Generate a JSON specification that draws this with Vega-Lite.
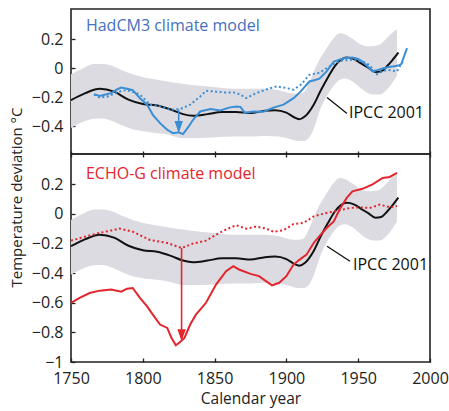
{
  "$schema": "https://vega.github.io/schema/vega-lite/v6.json",
  "padding": {"left": 8, "top": 8, "right": 10, "bottom": 2},
  "spacing": 0,
  "bounds": "flush",
  "config": {
    "view": {"stroke": "#222", "strokeWidth": 1.6},
    "axis": {"labelFont": "Open Sans", "labelFontSize": 16, "labelColor": "#222", "tickColor": "#222", "tickWidth": 1.3, "titleFont": "Open Sans", "titleFontSize": 15, "titleFontWeight": "normal", "titleColor": "#222", "grid": false, "domain": false, "labelFlush": false, "labelOverlap": false},
    "text": {"font": "Open Sans"}
  },
  "datasets": {
    "band": [
      {"year": 1750, "lo": -0.41, "hi": -0.04},
      {"year": 1758, "lo": -0.37, "hi": 0.0},
      {"year": 1766, "lo": -0.347, "hi": 0.03},
      {"year": 1772, "lo": -0.345, "hi": 0.03},
      {"year": 1778, "lo": -0.36, "hi": 0.02},
      {"year": 1785, "lo": -0.39, "hi": -0.01},
      {"year": 1793, "lo": -0.42, "hi": -0.04},
      {"year": 1805, "lo": -0.44, "hi": -0.07},
      {"year": 1817, "lo": -0.455, "hi": -0.09},
      {"year": 1828, "lo": -0.48, "hi": -0.105},
      {"year": 1840, "lo": -0.48, "hi": -0.12},
      {"year": 1851, "lo": -0.475, "hi": -0.13},
      {"year": 1863, "lo": -0.47, "hi": -0.14},
      {"year": 1875, "lo": -0.47, "hi": -0.14},
      {"year": 1886, "lo": -0.465, "hi": -0.14},
      {"year": 1895, "lo": -0.47, "hi": -0.15},
      {"year": 1902, "lo": -0.485, "hi": -0.17},
      {"year": 1908, "lo": -0.5, "hi": -0.175},
      {"year": 1912, "lo": -0.5, "hi": -0.165},
      {"year": 1916, "lo": -0.475, "hi": -0.095},
      {"year": 1920, "lo": -0.39, "hi": 0.0},
      {"year": 1923, "lo": -0.297, "hi": 0.06},
      {"year": 1926, "lo": -0.23, "hi": 0.108},
      {"year": 1930, "lo": -0.16, "hi": 0.17},
      {"year": 1933, "lo": -0.117, "hi": 0.21},
      {"year": 1937, "lo": -0.08, "hi": 0.243},
      {"year": 1941, "lo": -0.07, "hi": 0.235},
      {"year": 1946, "lo": -0.09, "hi": 0.205},
      {"year": 1951, "lo": -0.13, "hi": 0.17},
      {"year": 1956, "lo": -0.166, "hi": 0.153},
      {"year": 1961, "lo": -0.18, "hi": 0.155},
      {"year": 1965, "lo": -0.18, "hi": 0.165},
      {"year": 1969, "lo": -0.155, "hi": 0.2},
      {"year": 1973, "lo": -0.11, "hi": 0.24},
      {"year": 1977, "lo": -0.05, "hi": 0.27}
    ],
    "ipcc": [
      {"year": 1750, "v": -0.218}, {"year": 1760, "v": -0.17}, {"year": 1770, "v": -0.14},
      {"year": 1780, "v": -0.16}, {"year": 1790, "v": -0.215}, {"year": 1800, "v": -0.245},
      {"year": 1810, "v": -0.255}, {"year": 1820, "v": -0.285}, {"year": 1828, "v": -0.315},
      {"year": 1835, "v": -0.326}, {"year": 1845, "v": -0.315}, {"year": 1855, "v": -0.3},
      {"year": 1865, "v": -0.3}, {"year": 1875, "v": -0.308}, {"year": 1885, "v": -0.292},
      {"year": 1892, "v": -0.288}, {"year": 1900, "v": -0.305}, {"year": 1905, "v": -0.335},
      {"year": 1909, "v": -0.35}, {"year": 1913, "v": -0.33}, {"year": 1919, "v": -0.25},
      {"year": 1924, "v": -0.15}, {"year": 1929, "v": -0.06}, {"year": 1934, "v": 0.02},
      {"year": 1938, "v": 0.06}, {"year": 1942, "v": 0.075}, {"year": 1947, "v": 0.065},
      {"year": 1952, "v": 0.035}, {"year": 1957, "v": 0.005}, {"year": 1962, "v": -0.025},
      {"year": 1966, "v": -0.02}, {"year": 1970, "v": 0.015}, {"year": 1974, "v": 0.06},
      {"year": 1978, "v": 0.11}
    ],
    "hadSolid": [
      {"year": 1766, "v": -0.177}, {"year": 1770, "v": -0.19}, {"year": 1774, "v": -0.18},
      {"year": 1778, "v": -0.17}, {"year": 1782, "v": -0.145}, {"year": 1785, "v": -0.131},
      {"year": 1789, "v": -0.14}, {"year": 1793, "v": -0.15}, {"year": 1798, "v": -0.205},
      {"year": 1803, "v": -0.25}, {"year": 1807, "v": -0.32}, {"year": 1812, "v": -0.377},
      {"year": 1817, "v": -0.423}, {"year": 1821, "v": -0.446}, {"year": 1825, "v": -0.44},
      {"year": 1828, "v": -0.453}, {"year": 1832, "v": -0.4}, {"year": 1835, "v": -0.354},
      {"year": 1840, "v": -0.297}, {"year": 1847, "v": -0.28}, {"year": 1854, "v": -0.29},
      {"year": 1860, "v": -0.27}, {"year": 1865, "v": -0.262}, {"year": 1868, "v": -0.265},
      {"year": 1871, "v": -0.306}, {"year": 1877, "v": -0.297}, {"year": 1884, "v": -0.298},
      {"year": 1891, "v": -0.27}, {"year": 1898, "v": -0.25}, {"year": 1905, "v": -0.205},
      {"year": 1910, "v": -0.158}, {"year": 1916, "v": -0.09}, {"year": 1920, "v": -0.08},
      {"year": 1923, "v": -0.07}, {"year": 1928, "v": -0.02}, {"year": 1933, "v": 0.048},
      {"year": 1940, "v": 0.071}, {"year": 1946, "v": 0.076}, {"year": 1950, "v": 0.065},
      {"year": 1953, "v": 0.048}, {"year": 1957, "v": 0.01}, {"year": 1960, "v": -0.02},
      {"year": 1964, "v": -0.01}, {"year": 1967, "v": 0.0}, {"year": 1971, "v": 0.01},
      {"year": 1974, "v": 0.014}, {"year": 1978, "v": 0.02}, {"year": 1980, "v": 0.03},
      {"year": 1984, "v": 0.14}
    ],
    "hadDot": [
      {"year": 1766, "v": -0.18}, {"year": 1770, "v": -0.2}, {"year": 1775, "v": -0.195},
      {"year": 1780, "v": -0.175}, {"year": 1785, "v": -0.155}, {"year": 1789, "v": -0.15},
      {"year": 1794, "v": -0.165}, {"year": 1798, "v": -0.18}, {"year": 1805, "v": -0.25},
      {"year": 1812, "v": -0.26}, {"year": 1819, "v": -0.285}, {"year": 1826, "v": -0.28},
      {"year": 1833, "v": -0.25}, {"year": 1840, "v": -0.193}, {"year": 1844, "v": -0.154},
      {"year": 1851, "v": -0.16}, {"year": 1857, "v": -0.165}, {"year": 1863, "v": -0.165},
      {"year": 1868, "v": -0.18}, {"year": 1872, "v": -0.205}, {"year": 1879, "v": -0.17},
      {"year": 1886, "v": -0.145}, {"year": 1893, "v": -0.124}, {"year": 1900, "v": -0.135},
      {"year": 1905, "v": -0.147}, {"year": 1910, "v": -0.113}, {"year": 1916, "v": -0.044},
      {"year": 1923, "v": -0.03}, {"year": 1930, "v": 0.014}, {"year": 1937, "v": 0.053},
      {"year": 1946, "v": 0.06}, {"year": 1952, "v": 0.05}, {"year": 1956, "v": 0.037},
      {"year": 1960, "v": 0.0}, {"year": 1963, "v": -0.04}, {"year": 1967, "v": -0.02},
      {"year": 1970, "v": -0.01}, {"year": 1974, "v": -0.015}, {"year": 1977, "v": -0.02},
      {"year": 1981, "v": 0.048}
    ],
    "echoSolid": [
      {"year": 1750, "v": -0.6}, {"year": 1756, "v": -0.567}, {"year": 1763, "v": -0.534},
      {"year": 1770, "v": -0.518}, {"year": 1778, "v": -0.51}, {"year": 1785, "v": -0.525},
      {"year": 1789, "v": -0.505}, {"year": 1793, "v": -0.5}, {"year": 1798, "v": -0.567},
      {"year": 1803, "v": -0.624}, {"year": 1807, "v": -0.68}, {"year": 1812, "v": -0.747},
      {"year": 1817, "v": -0.77}, {"year": 1820, "v": -0.838}, {"year": 1823, "v": -0.887},
      {"year": 1826, "v": -0.865}, {"year": 1829, "v": -0.838}, {"year": 1833, "v": -0.747},
      {"year": 1837, "v": -0.68}, {"year": 1844, "v": -0.6}, {"year": 1851, "v": -0.477},
      {"year": 1858, "v": -0.387}, {"year": 1863, "v": -0.353}, {"year": 1867, "v": -0.375},
      {"year": 1875, "v": -0.405}, {"year": 1881, "v": -0.42}, {"year": 1886, "v": -0.455},
      {"year": 1890, "v": -0.482}, {"year": 1895, "v": -0.465}, {"year": 1900, "v": -0.42},
      {"year": 1905, "v": -0.342}, {"year": 1909, "v": -0.31}, {"year": 1914, "v": -0.275},
      {"year": 1919, "v": -0.196}, {"year": 1923, "v": -0.15}, {"year": 1928, "v": -0.095},
      {"year": 1933, "v": -0.05}, {"year": 1937, "v": 0.03}, {"year": 1942, "v": 0.108},
      {"year": 1946, "v": 0.153}, {"year": 1953, "v": 0.17}, {"year": 1960, "v": 0.2},
      {"year": 1967, "v": 0.243}, {"year": 1972, "v": 0.25}, {"year": 1977, "v": 0.277}
    ],
    "echoDot": [
      {"year": 1750, "v": -0.18}, {"year": 1761, "v": -0.15}, {"year": 1770, "v": -0.128},
      {"year": 1784, "v": -0.099}, {"year": 1793, "v": -0.12}, {"year": 1805, "v": -0.176},
      {"year": 1817, "v": -0.196}, {"year": 1827, "v": -0.23}, {"year": 1835, "v": -0.2},
      {"year": 1844, "v": -0.18}, {"year": 1851, "v": -0.14}, {"year": 1858, "v": -0.105},
      {"year": 1865, "v": -0.076}, {"year": 1872, "v": -0.099}, {"year": 1879, "v": -0.085},
      {"year": 1886, "v": -0.099}, {"year": 1891, "v": -0.12}, {"year": 1898, "v": -0.11},
      {"year": 1905, "v": -0.068}, {"year": 1912, "v": -0.06}, {"year": 1919, "v": -0.016},
      {"year": 1928, "v": 0.007}, {"year": 1935, "v": 0.02}, {"year": 1944, "v": 0.04},
      {"year": 1951, "v": 0.045}, {"year": 1958, "v": 0.04}, {"year": 1965, "v": 0.063},
      {"year": 1972, "v": 0.045}, {"year": 1977, "v": 0.054}
    ]
  },
  "vconcat": [
    {
      "width": 359,
      "height": 145,
      "layer": [
        {
          "data": {"name": "band"},
          "mark": {"type": "area", "color": "#dcdbe2", "interpolate": "monotone"},
          "encoding": {
            "x": {"field": "year", "type": "quantitative", "scale": {"domain": [1750, 2000], "nice": false, "zero": false},
                  "axis": {"values": [1750, 1800, 1850, 1900, 1950, 2000], "tickCount": 12, "labels": false, "tickSize": 6, "offset": -3, "title": null}},
            "y": {"field": "lo", "type": "quantitative", "scale": {"domain": [-0.59, 0.41], "nice": false, "zero": false},
                  "axis": {"values": [-0.4, -0.2, 0, 0.2], "tickCount": 12, "format": "~g", "tickSize": -4, "labelPadding": 12, "title": null}},
            "y2": {"field": "hi"}
          }
        },
        {
          "data": {"name": "ipcc"},
          "mark": {"type": "line", "color": "#111", "strokeWidth": 2, "interpolate": "monotone"},
          "encoding": {"x": {"field": "year", "type": "quantitative"}, "y": {"field": "v", "type": "quantitative"}}
        },
        {
          "data": {"name": "hadDot"},
          "mark": {"type": "line", "color": "#3a8ed4", "strokeWidth": 2, "strokeDash": [2, 2.5]},
          "encoding": {"x": {"field": "year", "type": "quantitative"}, "y": {"field": "v", "type": "quantitative"}}
        },
        {
          "data": {"name": "hadSolid"},
          "mark": {"type": "line", "color": "#3a8ed4", "strokeWidth": 2},
          "encoding": {"x": {"field": "year", "type": "quantitative"}, "y": {"field": "v", "type": "quantitative"}}
        },
        {
          "data": {"values": [{"year": 1825, "v0": -0.283, "v1": -0.43}]},
          "mark": {"type": "rule", "color": "#3a8ed4", "strokeWidth": 1.6},
          "encoding": {"x": {"field": "year", "type": "quantitative"}, "y": {"field": "v0", "type": "quantitative"}, "y2": {"field": "v1"}}
        },
        {
          "data": {"values": [{"year": 1825, "v": -0.446}]},
          "mark": {"type": "point", "shape": "M0,0L-0.7,-2L0.7,-2Z", "filled": true, "size": 144, "color": "#3a8ed4", "opacity": 1},
          "encoding": {"x": {"field": "year", "type": "quantitative"}, "y": {"field": "v", "type": "quantitative"}}
        },
        {
          "data": {"values": [{"x0": 1928.3, "x1": 1942.2, "y0": -0.2, "y1": -0.31}]},
          "mark": {"type": "rule", "color": "#111", "strokeWidth": 1.3},
          "encoding": {"x": {"field": "x0", "type": "quantitative"}, "x2": {"field": "x1"}, "y": {"field": "y0", "type": "quantitative"}, "y2": {"field": "y1"}}
        },
        {
          "data": {"values": [{"year": 1943.6, "v": -0.31, "label": "IPCC 2001"}]},
          "mark": {"type": "text", "align": "left", "baseline": "middle", "fontSize": 16, "color": "#111"},
          "encoding": {"x": {"field": "year", "type": "quantitative"}, "y": {"field": "v", "type": "quantitative"}, "text": {"field": "label"}}
        },
        {
          "data": {"values": [{"year": 1760.4, "v": 0.29, "label": "HadCM3 climate model"}]},
          "mark": {"type": "text", "align": "left", "baseline": "middle", "fontSize": 16, "color": "#4670c0"},
          "encoding": {"x": {"field": "year", "type": "quantitative"}, "y": {"field": "v", "type": "quantitative"}, "text": {"field": "label"}}
        }
      ]
    },
    {
      "width": 359,
      "height": 208,
      "layer": [
        {
          "data": {"name": "band"},
          "mark": {"type": "area", "color": "#dcdbe2", "interpolate": "monotone"},
          "encoding": {
            "x": {"field": "year", "type": "quantitative", "scale": {"domain": [1750, 2000], "nice": false, "zero": false},
                  "axis": {"values": [1750, 1800, 1850, 1900, 1950, 2000], "tickCount": 12, "format": "d", "tickSize": -4, "labelPadding": 12, "title": "Calendar year", "titleFontSize": 15.5, "titlePadding": 5}},
            "y": {"field": "lo", "type": "quantitative", "scale": {"domain": [-1, 0.405], "nice": false, "zero": false},
                  "axis": {"values": [-1, -0.8, -0.6, -0.4, -0.2, 0, 0.2], "tickCount": 12, "format": "~g", "tickSize": -4, "labelPadding": 12, "title": "Temperature deviation °C", "titleY": 43, "titleX": -47}},
            "y2": {"field": "hi"}
          }
        },
        {
          "data": {"name": "ipcc"},
          "mark": {"type": "line", "color": "#111", "strokeWidth": 2, "interpolate": "monotone"},
          "encoding": {"x": {"field": "year", "type": "quantitative"}, "y": {"field": "v", "type": "quantitative"}}
        },
        {
          "data": {"name": "echoDot"},
          "mark": {"type": "line", "color": "#e3262d", "strokeWidth": 2, "strokeDash": [2, 2.5]},
          "encoding": {"x": {"field": "year", "type": "quantitative"}, "y": {"field": "v", "type": "quantitative"}}
        },
        {
          "data": {"name": "echoSolid"},
          "mark": {"type": "line", "color": "#e3262d", "strokeWidth": 2},
          "encoding": {"x": {"field": "year", "type": "quantitative"}, "y": {"field": "v", "type": "quantitative"}}
        },
        {
          "data": {"values": [{"year": 1827, "v0": -0.23, "v1": -0.84}]},
          "mark": {"type": "rule", "color": "#e3262d", "strokeWidth": 1.6},
          "encoding": {"x": {"field": "year", "type": "quantitative"}, "y": {"field": "v0", "type": "quantitative"}, "y2": {"field": "v1"}}
        },
        {
          "data": {"values": [{"year": 1827, "v": -0.86}]},
          "mark": {"type": "point", "shape": "M0,0L-0.7,-2L0.7,-2Z", "filled": true, "size": 144, "color": "#e3262d", "opacity": 1},
          "encoding": {"x": {"field": "year", "type": "quantitative"}, "y": {"field": "v", "type": "quantitative"}}
        },
        {
          "data": {"values": [{"x0": 1928.3, "x1": 1944.3, "y0": -0.218, "y1": -0.32}]},
          "mark": {"type": "rule", "color": "#111", "strokeWidth": 1.3},
          "encoding": {"x": {"field": "x0", "type": "quantitative"}, "x2": {"field": "x1"}, "y": {"field": "y0", "type": "quantitative"}, "y2": {"field": "y1"}}
        },
        {
          "data": {"values": [{"year": 1946.4, "v": -0.342, "label": "IPCC 2001"}]},
          "mark": {"type": "text", "align": "left", "baseline": "middle", "fontSize": 16, "color": "#111"},
          "encoding": {"x": {"field": "year", "type": "quantitative"}, "y": {"field": "v", "type": "quantitative"}, "text": {"field": "label"}}
        },
        {
          "data": {"values": [{"year": 1760.4, "v": 0.268, "label": "ECHO-G climate model"}]},
          "mark": {"type": "text", "align": "left", "baseline": "middle", "fontSize": 16, "color": "#e3262d"},
          "encoding": {"x": {"field": "year", "type": "quantitative"}, "y": {"field": "v", "type": "quantitative"}, "text": {"field": "label"}}
        }
      ]
    }
  ]
}
